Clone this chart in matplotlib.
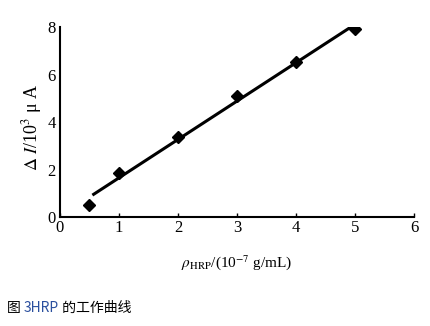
import numpy as np
import matplotlib
matplotlib.use('Agg')
import matplotlib.pyplot as plt

# values
conc = [0.5, 1, 2, 3, 4, 5]
current = [0.5, 1.85, 3.37, 5.1, 6.53, 7.92]
x_ticks = [0, 1, 2, 3, 4, 5, 6]
y_ticks = [0, 2, 4, 6, 8]

plt.rcParams['font.family'] = ['Liberation Serif', 'DejaVu Serif']
plt.rcParams['mathtext.fontset'] = 'stix'

fig = plt.figure(figsize=(4.31, 3.26), dpi=100)
ax = fig.add_axes([0.139, 0.334, 0.822, 0.583])

# linear fit through the points
slope, intercept = np.polyfit(conc, current, 1)
fit_x = np.array([conc[0] + 0.05, conc[-1]])
ax.plot(fit_x, slope * fit_x + intercept, color='black', lw=2.2, solid_capstyle='butt')
ax.plot(conc, current, linestyle='none', marker='D', markersize=6.5, color='black')

ax.set_xlim(0, 6)
ax.set_ylim(0, 8)
ax.set_xticks(x_ticks)
ax.set_yticks(y_ticks)
ax.tick_params(direction='in', length=3, width=1, labelsize=12, pad=2)
ax.tick_params(axis='y', length=0, pad=3)
for side in ['top', 'right']:
    ax.spines[side].set_visible(False)
for side in ['left', 'bottom']:
    ax.spines[side].set_linewidth(1.5)

ax.set_ylabel(r'$\Delta\ I$/10$^3$ μ A', fontsize=13)
ax.yaxis.set_label_coords(-0.045, 0.47)
ax.set_xlabel(r'$\rho_{\mathrm{HRP}}$/(10$^{-7}$ g/mL)', fontsize=11, labelpad=12)

# caption below the chart, "3HRP" drawn in blue like the source
cap_font = ['Noto Sans CJK SC', 'DejaVu Sans']
pieces = [('图 ', 'black'), ('3HRP', '#2a4f9e'), (' 的工作曲线', 'black')]
fig.canvas.draw()
renderer = fig.canvas.get_renderer()
x_px = 7
for txt, col in pieces:
    t = fig.text(x_px / 431, 1 - 308 / 326, txt, family=cap_font, fontsize=10,
                 color=col, va='center', ha='left')
    x_px = t.get_window_extent(renderer).x1

fig.savefig('out.png', dpi=100)
